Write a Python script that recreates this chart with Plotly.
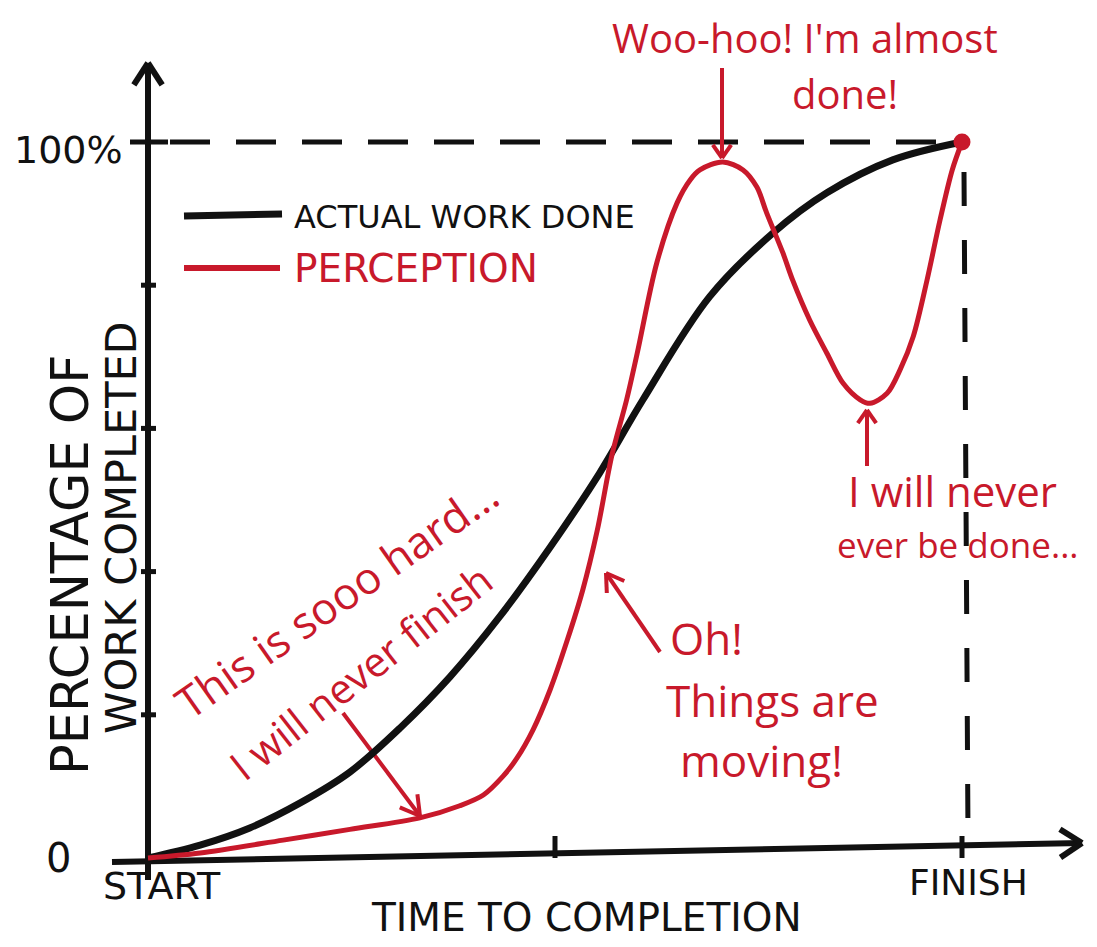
import math
import plotly.graph_objects as go

# ---------------- data ----------------
# x: time to completion (0 = start, 100 = finish), y: % of work completed
time_actual = [0, 6.4, 12.5, 18.7, 24.8, 31.0, 37.1, 43.2, 49.4, 55.5, 60.8, 69.0, 76.8, 83.4, 91.5, 100]
pct_actual = [0, 1.8, 4.2, 7.7, 12.0, 18.2, 25.3, 33.7, 43.4, 53.8, 64.0, 78.4, 87.3, 92.9, 97.5, 100]

time_perceived = [0, 6.4, 16.6, 24.8, 33.4, 38.3, 41.2, 43.6, 45.3, 47.3, 49.4, 51.5, 53.4, 55.2, 57.0,
                  58.8, 60.1, 62.5, 65.0, 66.6, 67.8, 70.6, 73.1, 74.8, 76.0, 78.0, 79.2, 81.3, 83.4,
                  85.4, 87.5, 88.7, 90.8, 92.4, 94.0, 95.7, 97.3, 98.8, 100]
pct_perceived = [0, 0.7, 2.5, 4.0, 5.6, 7.3, 8.8, 11.4, 13.9, 17.9, 23.5, 30.4, 37.4, 45.8, 56.3,
                 64.0, 70.5, 83.1, 91.5, 94.7, 96.1, 97.2, 96.1, 93.7, 90.1, 84.5, 80.7, 75.1, 70.5,
                 66.3, 64.0, 63.5, 64.9, 68.2, 72.8, 80.7, 89.1, 96.1, 100]

y_ticks = [20, 40, 60, 80]
y_tick_labels = ["0", "100%"]
x_ticks = [50, 100]
x_tick_labels = ["START", "FINISH"]
series_names = ["ACTUAL WORK DONE", "PERCEPTION"]

# ---------------- geometry helpers ----------------
W, H = 1081, 931          # figure size (page has an 8px body margin)
OFF = 8
X0, XS = 148.0, 8.14      # screen px of t=0, px per unit of time
Y0, YS = 858.0, 7.16      # screen px of 0 %, px per percent


def dx(sx):
    return (sx - X0) / XS


def dy(sy):
    return (Y0 - sy) / YS


def sx_of(x):
    return X0 + x * XS


def sy_of(y):
    return Y0 - y * YS


BLACK = "#111111"
RED = "#c8192b"
FONT_CAPS = "DejaVu Sans"
FONT_HAND = "Open Sans"

fig = go.Figure()
shapes = []
annotations = []


def seg(p1, p2, color, width, dash=None):
    line = dict(color=color, width=width)
    if dash:
        line["dash"] = dash
    shapes.append(dict(type="line", xref="x", yref="y",
                       x0=dx(p1[0]), y0=dy(p1[1]), x1=dx(p2[0]), y1=dy(p2[1]),
                       line=line, layer="below"))


def arrow(tail, tip, color, width, barb=18, ang=32):
    seg(tail, tip, color, width)
    a = math.atan2(tail[1] - tip[1], tail[0] - tip[0])
    for s in (-1, 1):
        b = a + s * math.radians(ang)
        seg(tip, (tip[0] + barb * math.cos(b), tip[1] + barb * math.sin(b)), color, width)


def text(s, sx, sy, size, color, angle=0, font=FONT_HAND, xanchor="center"):
    annotations.append(dict(x=dx(sx), y=dy(sy), xref="x", yref="y", text=s, showarrow=False,
                            textangle=angle, xanchor=xanchor, yanchor="middle",
                            font=dict(family=font, size=size, color=color)))


# ---------------- axes ----------------
arrow((112, 862), (1082, 843), BLACK, 6, barb=26, ang=33)     # time axis
arrow((148, 880), (148, 63), BLACK, 6, barb=26, ang=33)       # percentage axis
for v in y_ticks:
    seg((141, sy_of(v)), (156, sy_of(v)), BLACK, 5)
seg((130, sy_of(100)), (168, sy_of(100)), BLACK, 5)
for v in x_ticks:
    xs = sx_of(v)
    seg((xs, 836), (xs, 858), BLACK, 5)

# dashed guide lines to the finish point
seg((170, sy_of(100)), (955, sy_of(100)), BLACK, 5, dash="40px,26px")
seg((sx_of(100) + 2, 172), (sx_of(100) + 6, 836), BLACK, 5, dash="34px,34px")

# ---------------- curves ----------------
fig.add_trace(go.Scatter(x=time_actual, y=pct_actual, mode="lines", name=series_names[0],
                         line=dict(color=BLACK, width=7, shape="spline", smoothing=1.0),
                         showlegend=False, hoverinfo="skip"))
fig.add_trace(go.Scatter(x=time_perceived, y=pct_perceived, mode="lines", name=series_names[1],
                         line=dict(color=RED, width=5, shape="spline", smoothing=0.9),
                         showlegend=False, hoverinfo="skip"))
fig.add_trace(go.Scatter(x=[time_perceived[-1]], y=[pct_perceived[-1]], mode="markers",
                         marker=dict(color=RED, size=17), showlegend=False, hoverinfo="skip"))

# ---------------- hand-made legend ----------------
seg((184, 216), (282, 214), BLACK, 7)
seg((184, 268), (280, 268), RED, 6)
text(series_names[0], 292, 217, 32, BLACK, font=FONT_CAPS, xanchor="left")
text(series_names[1], 292, 268, 39, RED, font=FONT_CAPS, xanchor="left")

# ---------------- axis labels ----------------
text(y_tick_labels[1], 68, 150, 38, BLACK, font=FONT_CAPS)
text(y_tick_labels[0], 58, 858, 40, BLACK, font=FONT_CAPS)
text(x_tick_labels[0], 162, 886, 38, BLACK, font=FONT_CAPS)
text(x_tick_labels[1], 968, 882, 36, BLACK, font=FONT_CAPS)
text("TIME TO COMPLETION", 586, 917, 39, BLACK, font=FONT_CAPS)
text("PERCENTAGE OF", 70, 565, 51, BLACK, angle=-90, font=FONT_CAPS)
text("WORK COMPLETED", 121, 528, 43, BLACK, angle=-90, font=FONT_CAPS)

# ---------------- red commentary ----------------
text("Woo-hoo! I'm almost", 805, 37, 40, RED)
text("done!", 845, 93, 40, RED)
arrow((722, 68), (722, 158), RED, 4, barb=16, ang=35)

text("I will never", 952, 490, 42, RED)
text("ever be done...", 958, 544, 35, RED)
arrow((867, 466), (867, 410), RED, 4, barb=16, ang=35)

text("This is sooo hard...", 336, 598, 44, RED, angle=-35)
text("I will never finish", 360, 672, 41, RED, angle=-38)
arrow((343, 713), (420, 816), RED, 4, barb=22, ang=30)

text("Oh!", 668, 638, 44, RED, xanchor="left")
text("Things are", 664, 700, 44, RED, xanchor="left")
text("moving!", 678, 760, 44, RED, xanchor="left")
arrow((660, 652), (606, 573), RED, 4, barb=20, ang=32)

fig.update_layout(
    width=W, height=H,
    margin=dict(l=0, r=0, t=0, b=0),
    paper_bgcolor="white", plot_bgcolor="white",
    xaxis=dict(range=[dx(OFF), dx(OFF + W)], visible=False, fixedrange=True),
    yaxis=dict(range=[dy(OFF + H), dy(OFF)], visible=False, fixedrange=True),
    shapes=shapes, annotations=annotations,
    showlegend=False,
)

fig.write_html("out.html")
